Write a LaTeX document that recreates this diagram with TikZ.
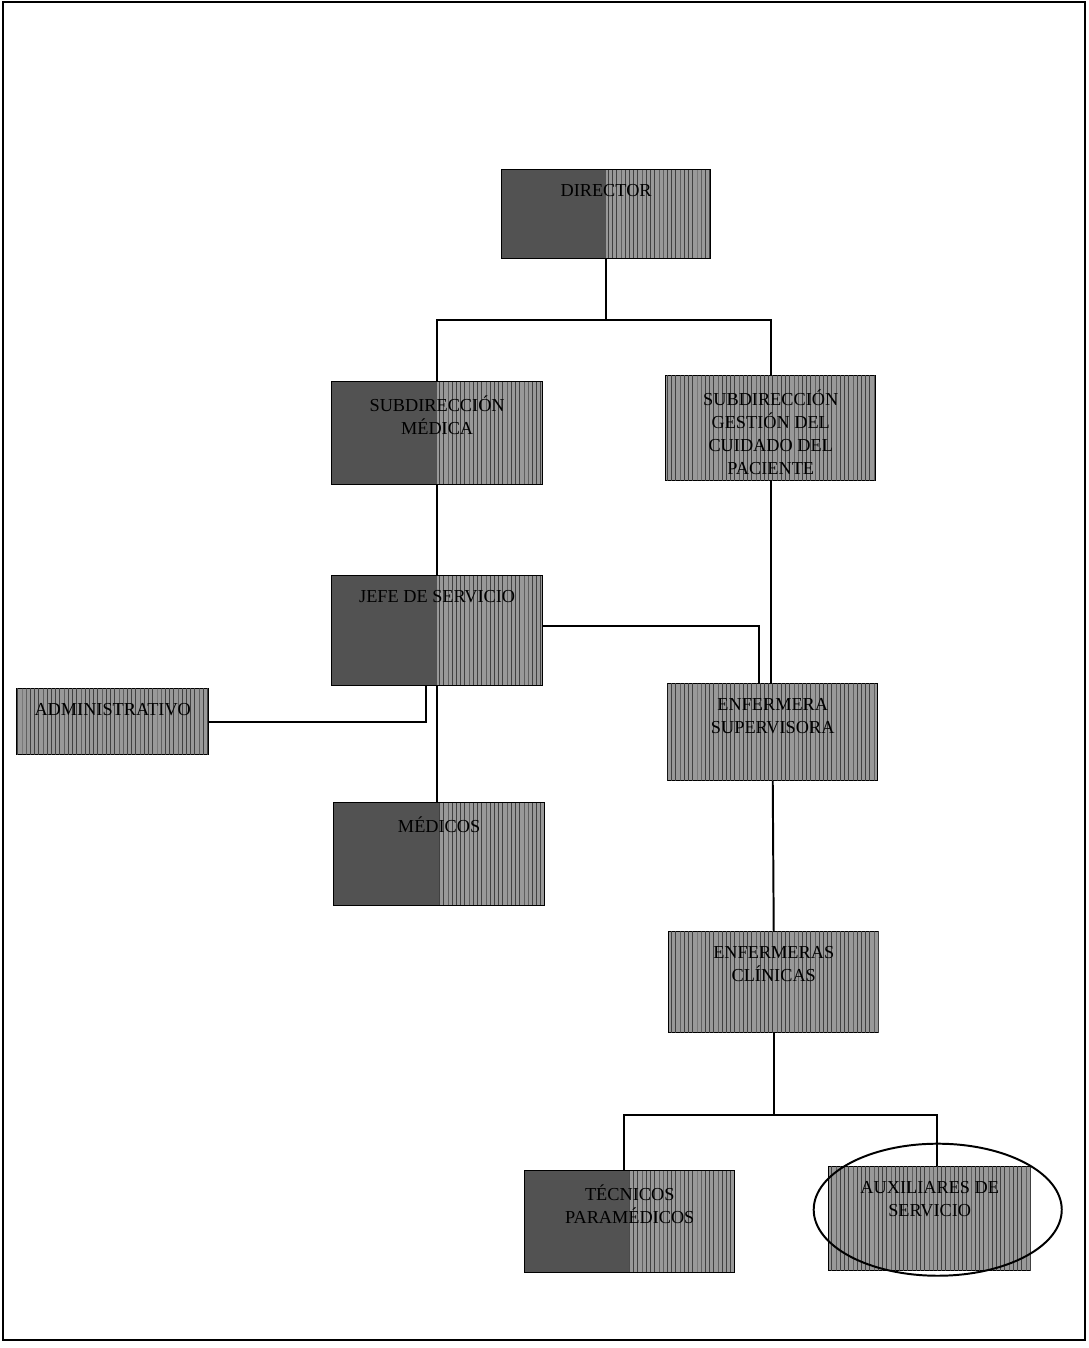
\documentclass[tikz,border=0pt]{standalone}
\usepackage{fontspec}
\setmainfont{Liberation Serif}
\usepackage{tikz}
\usetikzlibrary{patterns,positioning,calc}

% text of a box, set at its top
\newcommand{\orgtext}[3]{\parbox[t][#1][t]{#2}{\centering\vspace*{0.36cm}#3}}

\begin{document}
\begin{tikzpicture}[
  x=0.025cm, y=-0.025cm,
  every node/.style={font=\fontsize{13}{16.3}\selectfont},
  halfbox/.style={rectangle, draw=black, line width=1pt, inner sep=0pt,
                  anchor=north west, fill=black!68,
                  path picture={
                    \fill[black!40] (path picture bounding box.north)
                      rectangle (path picture bounding box.south east);
                    \fill[pattern=vertical lines, pattern color=black!75]
                      (path picture bounding box.north)
                      rectangle (path picture bounding box.south east);}},
  stripebox/.style={rectangle, draw=black, line width=1pt, inner sep=0pt,
                    anchor=north west, fill=black!40,
                    postaction={pattern=vertical lines, pattern color=black!75}},
  link/.style={line width=1.4pt}
]
  \useasboundingbox (0,0) rectangle (1089,1348);
  \draw[line width=0.8pt] (3,2) rectangle (1085,1340);

  \node[halfbox]   (director) at (501,169)  {\orgtext{2.22cm}{5.22cm}{DIRECTOR}};
  \node[halfbox]   (submed)   at (331,381)  {\orgtext{2.57cm}{5.27cm}{SUBDIRECCIÓN\\MÉDICA}};
  \node[stripebox] (subges)   at (665,375)  {\orgtext{2.62cm}{5.25cm}{SUBDIRECCIÓN\\GESTIÓN DEL\\CUIDADO DEL\\PACIENTE}};
  \node[halfbox]   (jefe)     at (331,575)  {\orgtext{2.75cm}{5.27cm}{JEFE DE SERVICIO}};
  \node[stripebox] (admin)    at (16,688)   {\orgtext{1.65cm}{4.8cm}{ADMINISTRATIVO}};
  \node[stripebox] (enfsup)   at (667,683)  {\orgtext{2.42cm}{5.25cm}{ENFERMERA\\SUPERVISORA}};
  \node[halfbox]   (medicos)  at (333,802)  {\orgtext{2.57cm}{5.27cm}{MÉDICOS}};
  \node[stripebox] (enfcli)   at (668,931)  {\orgtext{2.52cm}{5.25cm}{ENFERMERAS\\CLÍNICAS}};
  \node[halfbox]   (tecnicos) at (524,1170) {\orgtext{2.55cm}{5.25cm}{TÉCNICOS\\PARAMÉDICOS}};
  \node[stripebox] (aux)      at (828,1166) {\orgtext{2.6cm}{5.05cm}{AUXILIARES DE\\SERVICIO}};

  % connectors
  \draw[link] (director.south) -- ++(0,61) coordinate (bus1);
  \draw[link] (submed.north) |- (bus1) -| (subges.north);
  \draw[link] (submed.south) -- (jefe.north);
  \draw[link] (jefe.south) -- (jefe.south |- medicos.north);
  \draw[link] ($(jefe.south)+(-11,0)$) |- (admin.east);
  \draw[link] ([yshift=0.12cm]jefe.east) -| ($(enfsup.north)+(-14,0)$);
  \draw[link] (subges.south) -- (subges.south |- enfsup.north);
  \draw[link] (enfsup.south) -- (enfcli.north);
  \draw[link] (enfcli.south) -- ++(0,82) coordinate (bus2);
  \draw[link] ($(tecnicos.north)+(-6,0)$) |- (bus2) -| ($(aux.north)+(7,0)$);

  % ring round the last box
  \draw[line width=1.4pt] ($(aux.center)+(8,-9)$) ellipse [x radius=3.1cm, y radius=1.65cm];
\end{tikzpicture}
\end{document}
